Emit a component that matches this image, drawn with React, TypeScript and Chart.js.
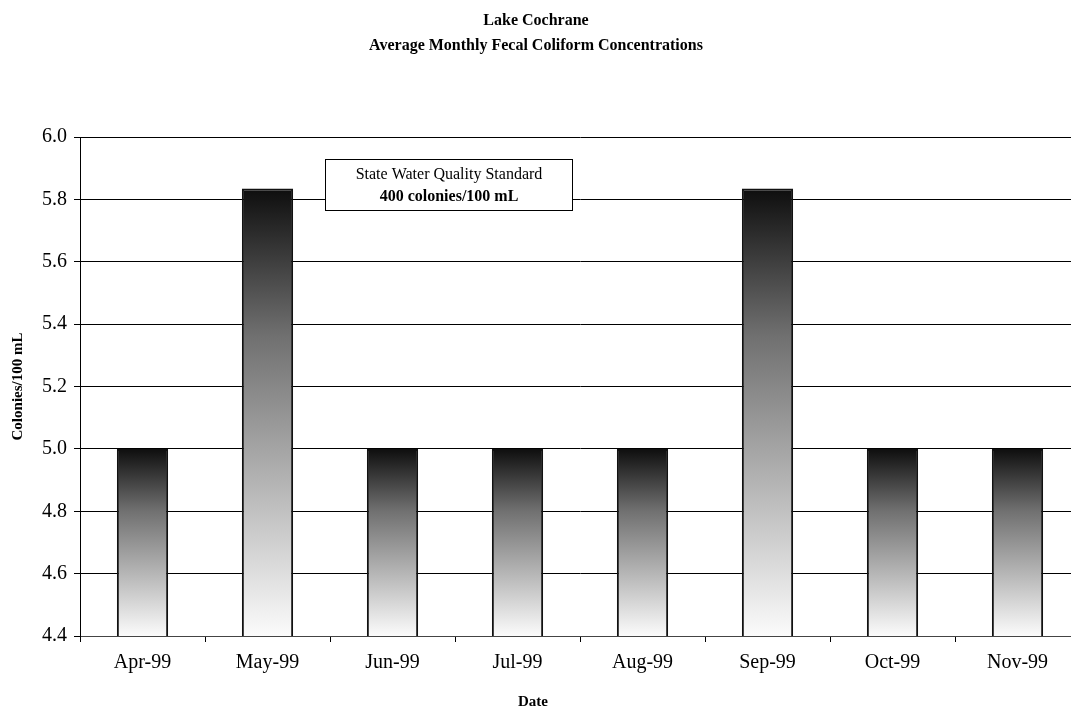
import React, { useEffect, useRef } from "react";
import { Chart, registerables } from "chart.js";

Chart.register(...registerables);

const categories = ["Apr-99", "May-99", "Jun-99", "Jul-99", "Aug-99", "Sep-99", "Oct-99", "Nov-99"];
const values = [5.0, 5.835, 5.0, 5.0, 5.0, 5.835, 5.0, 5.0];
const titleLines = ["Lake Cochrane", "Average Monthly Fecal Coliform Concentrations"];
const noteLines = ["State Water Quality Standard", "400 colonies/100 mL"];
const xTitle = "Date";
const yTitle = "Colonies/100 mL";
const yMin = 4.4;
const yMax = 6.0;
const yStep = 0.2;

const SERIF = "'Liberation Serif', 'Times New Roman', serif";
const PAGE_CENTER = 536;

const textPlugin = {
  id: "textPlugin",
  afterDraw(chart: any) {
    const { ctx, chartArea, scales } = chart;
    const y = scales.y;
    ctx.save();
    ctx.fillStyle = "#000000";
    ctx.textAlign = "center";
    ctx.textBaseline = "middle";
    // main title
    ctx.font = `bold 16px ${SERIF}`;
    ctx.fillText(titleLines[0], PAGE_CENTER, 21);
    ctx.fillText(titleLines[1], PAGE_CENTER, 46);
    // x axis title
    ctx.font = `bold 15px ${SERIF}`;
    ctx.fillText(xTitle, PAGE_CENTER - 3, 702);

    // note box
    const w = chartArea.right - chartArea.left;
    const x0 = Math.round(chartArea.left + w * 0.245) + 0.5;
    const x1 = Math.round(chartArea.left + w * 0.492) + 0.5;
    const y0 = Math.round(y.getPixelForValue(5.93)) + 0.5;
    const y1 = Math.round(y.getPixelForValue(5.767)) + 0.5;
    ctx.fillStyle = "#ffffff";
    ctx.fillRect(x0, y0, x1 - x0, y1 - y0);
    ctx.strokeStyle = "#000000";
    ctx.lineWidth = 1;
    ctx.strokeRect(x0, y0, x1 - x0, y1 - y0);
    ctx.fillStyle = "#000000";
    const cx = (x0 + x1) / 2;
    ctx.font = `16px ${SERIF}`;
    ctx.fillText(noteLines[0], cx, y0 + 15);
    ctx.font = `bold 16px ${SERIF}`;
    ctx.fillText(noteLines[1], cx, y0 + 37);
    ctx.restore();
  },
};

function barGradient(context: any) {
  const chart = context.chart;
  const { ctx, chartArea, scales } = chart;
  if (!chartArea || !scales.y) return "#888";
  const v = context.raw as number;
  const top = scales.y.getPixelForValue(v);
  const bottom = scales.y.getPixelForValue(yMin);
  if (!isFinite(top) || !isFinite(bottom) || top === bottom) return "#888";
  const g = ctx.createLinearGradient(0, top, 0, bottom);
  g.addColorStop(0, "#0e0e0e");
  g.addColorStop(0.33, "#707070");
  g.addColorStop(1, "#fbfbfb");
  return g;
}

export default function App() {
  const ref = useRef<HTMLCanvasElement | null>(null);
  useEffect(() => {
    if (!ref.current) return;
    const chart = new Chart(ref.current, {
      type: "bar",
      data: {
        labels: categories,
        datasets: [
          {
            data: values,
            backgroundColor: barGradient,
            borderColor: "#111111",
            borderWidth: 2,
            borderSkipped: false,
            barPercentage: 0.82,
            categoryPercentage: 0.5,
          },
        ],
      },
      options: {
        responsive: false,
        animation: false,
        layout: { padding: { left: 0, right: 0, top: 137, bottom: 0 } },
        plugins: {
          legend: { display: false },
          tooltip: { enabled: false },
          title: { display: false },
        },
        scales: {
          x: {
            grid: { drawOnChartArea: false, drawTicks: true, tickLength: 6, offset: true, color: "#000" },
            border: { display: true, color: "#444", width: 1 },
            ticks: { color: "#000", font: { family: SERIF, size: 20 }, padding: 9, maxRotation: 0 },
            title: { display: false },
            afterFit(scale: any) {
              scale.height = 91;
            },
          },
          y: {
            min: yMin,
            max: yMax,
            ticks: {
              stepSize: yStep,
              color: "#000",
              font: { family: SERIF, size: 20 },
              padding: 7,
              callback: (v: any) => Number(v).toFixed(1),
            },
            grid: { color: "#000", lineWidth: 1, drawTicks: true, tickLength: 6 },
            border: { display: true, color: "#000", width: 1 },
            title: {
              display: true,
              text: yTitle,
              color: "#000",
              font: { family: SERIF, size: 15, weight: "bold", lineHeight: 1.2 },
              padding: { top: 9, bottom: 0 },
            },
            afterFit(scale: any) {
              scale.width = 80;
            },
          },
        },
      },
      plugins: [textPlugin],
    });
    return () => chart.destroy();
  }, []);
  return (
    <div style={{ position: "absolute", left: 0, top: 0, width: 1071, height: 727, background: "#fff", overflow: "hidden" }}>
      <canvas ref={ref} width={1080} height={727} style={{ display: "block" }} />
    </div>
  );
}
